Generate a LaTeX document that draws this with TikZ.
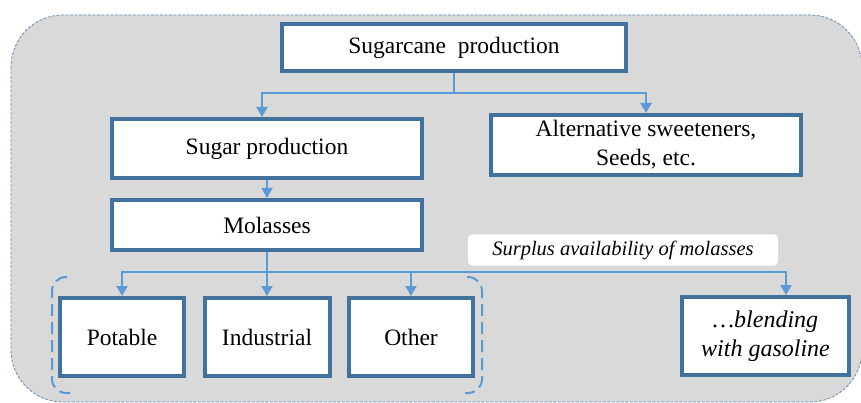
\documentclass[tikz,border=0pt]{standalone}
\usepackage{fontspec}
\setmainfont{Liberation Serif}
\usetikzlibrary{arrows.meta,positioning,calc}
\definecolor{boxblue}{HTML}{41719C}
\definecolor{linkblue}{HTML}{5B9BD5}
\definecolor{panelgray}{HTML}{D9D9D9}
\definecolor{panelline}{HTML}{6A8DB3}

\tikzset{
  stagebox/.style={draw=boxblue,line width=4pt,fill=white,inner sep=0pt,align=center,
    font=\fontsize{23.5}{29}\selectfont},
  link/.style={draw=linkblue,line width=2pt,-{Triangle[width=11pt,length=10pt]}},
  bus/.style={draw=linkblue,line width=2pt},
  bracket/.style={draw=linkblue,line width=2pt,dash pattern=on 12pt off 6pt,rounded corners=14pt},
  tag/.style={fill=white,rounded corners=4pt,inner sep=0pt,minimum width=310pt,minimum height=31pt,
    font=\fontsize{20.5}{22}\itshape\selectfont}
}

\begin{document}
\begin{tikzpicture}[x=1pt,y=-1pt]
\useasboundingbox (0,0) rectangle (861,403);
% panel
\draw[panelline,fill=panelgray,line width=0.8pt,dash pattern=on 3pt off 1.5pt,rounded corners=52pt]
  (11,15) rectangle (862,402);

% boxes
\node[stagebox,minimum width=344pt,minimum height=47pt] (cane) at (454,47.5) {Sugarcane\ \ production};
\node[stagebox,minimum width=310pt,minimum height=59pt] (sugar) at (267,148.5) {Sugar production};
\node[stagebox,minimum width=310pt,minimum height=60pt] (alt) at (646,145) {Alternative sweeteners,\\Seeds, etc.};
\node[stagebox,minimum width=310pt,minimum height=50pt] (mol) at (267,225) {Molasses};
\node[stagebox,minimum width=124pt,minimum height=78pt] (pot) at (122,337) {Potable};
\node[stagebox,minimum width=125pt,minimum height=78pt] (ind) at (267,337) {Industrial};
\node[stagebox,minimum width=124pt,minimum height=78pt] (oth) at (411,337) {Other};
\node[stagebox,minimum width=167pt,minimum height=78pt,font=\fontsize{24}{29}\itshape\selectfont] (blend) at (765.5,336) {\ldots blending\\with gasoline};
\node[tag] (surplus) at (623,250) {Surplus availability of molasses};

% links
\coordinate (fork1) at (454,93);
\coordinate (fork2) at ($(mol.south)+(0,20)$);
\coordinate (gas) at (786,295);
\draw[bus] (cane.south) -- (fork1);
\draw[link] (fork1) -| ([xshift=-5pt]sugar.north);
\draw[link] (fork1) -| (alt.north);
\draw[link] (sugar.south) -- (mol.north);
\draw[bus] (mol.south) -- (fork2);
\draw[link] (fork2) -| (pot.north);
\draw[link] (fork2) -- (ind.north);
\draw[link] (fork2) -| (oth.north);
\draw[link] (fork2) -| (gas);

% brackets
\draw[bracket] (67,277) -- (52,277) -- (52,393) -- (70,393);
\draw[bracket] (467,277) -- (482,277) -- (482,393) -- (465,393);
\end{tikzpicture}
\end{document}
